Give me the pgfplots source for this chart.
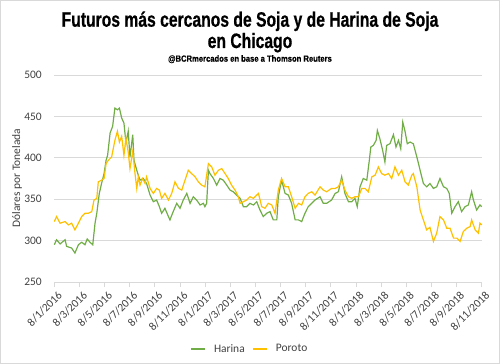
\documentclass[border=0pt]{standalone}
\usepackage{fontspec}
\setmainfont{Carlito}
\newfontfamily\titlefont[FakeStretch=0.75,FakeBold=0.6]{Liberation Sans}
\newfontfamily\subfont[FakeStretch=0.85,FakeBold=0.3]{Liberation Sans}
\usepackage{pgfplots}
\pgfplotsset{compat=1.18}
\definecolor{harina}{HTML}{70AD47}
\definecolor{poroto}{HTML}{FFC000}
\definecolor{gridc}{HTML}{D9D9D9}
\definecolor{txt}{HTML}{404040}
\begin{document}
\begin{tikzpicture}
\useasboundingbox (0,0) rectangle (500bp,364bp);
\draw[gridc, line width=0.8bp] (0.4bp,0.4bp) rectangle (499.6bp,363.6bp);
\node[anchor=base, inner sep=0pt, font=\titlefont\bfseries\fontsize{21}{25}\selectfont] at (250bp,337.3bp) {Futuros más cercanos de Soja y de Harina de Soja};
\node[anchor=base, inner sep=0pt, font=\titlefont\bfseries\fontsize{21}{25}\selectfont] at (250bp,316bp) {en Chicago};
\node[anchor=base, inner sep=0pt, font=\subfont\bfseries\fontsize{9}{11}\selectfont] at (250bp,302.3bp) {@BCRmercados en base a Thomson Reuters};
\node[rotate=90, inner sep=0pt, font=\fontsize{11.5}{13}\selectfont, text=txt] at (17bp,186bp) {Dólares por Tonelada};
\begin{axis}[
  at={(54.3bp,82bp)}, anchor=south west,
  width=427.4bp, height=207bp, scale only axis,
  xmin=0, xmax=17, ymin=250, ymax=500,
  ytick={250,300,...,500},
  xtick={0,...,17},
  xticklabels={8/1/2016,8/3/2016,8/5/2016,8/7/2016,8/9/2016,8/11/2016,8/1/2017,8/3/2017,8/5/2017,8/7/2017,8/9/2017,8/11/2017,8/1/2018,8/3/2018,8/5/2018,8/7/2018,8/9/2018,8/11/2018},
  axis line style={draw=none},
  ymajorgrids, grid style={gridc, line width=0.8bp},
  xtick pos=left, tick align=outside, major tick length=5bp,
  xtick style={gridc, line width=0.8bp},
  ytick style={draw=none},
  /pgf/number format/assume math mode=true,
  tick label style={font=\fontsize{11.5}{13}\selectfont, text=txt},
  yticklabel style={xshift=-4bp},
  xticklabel style={rotate=45, anchor=north east, xshift=3bp, yshift=-1bp},
  legend style={at={(0.458,-0.324)}, anchor=center, draw=none, fill=none, legend columns=2,
     font=\fontsize{11.5}{13}\selectfont, text=txt, column sep=6bp},
  legend image code/.code={\draw[#1] (0bp,0bp) -- (14bp,0bp);},
  clip=false,
]
\addplot[harina, line width=1.2bp] coordinates {
(0.00,295)(0.09,301)(0.23,296)(0.43,301)(0.49,293)(0.69,291)(0.82,285)(0.96,295)(1.09,298)(1.22,295)(1.31,302)(1.42,298)(1.53,295)(1.62,321)(1.69,333)(1.79,357)(1.88,369)(1.98,381)(2.06,397)(2.12,403)(2.22,430)(2.32,438)(2.41,460)(2.51,458)(2.59,460)(2.68,448)(2.77,442)(2.85,418)(2.94,432)(3.01,401)(3.12,428)(3.17,397)(3.28,385)(3.34,379)(3.41,373)(3.54,375)(3.67,369)(3.81,355)(3.94,347)(4.07,349)(4.18,341)(4.27,333)(4.40,339)(4.54,329)(4.60,325)(4.73,335)(4.87,345)(5.00,339)(5.13,349)(5.27,357)(5.40,345)(5.53,353)(5.66,349)(5.80,343)(5.93,345)(5.99,341)(6.06,345)(6.13,385)(6.19,381)(6.33,375)(6.46,367)(6.59,375)(6.72,373)(6.86,367)(6.99,361)(7.12,359)(7.25,355)(7.39,351)(7.52,341)(7.65,341)(7.78,345)(7.92,343)(8.05,347)(8.18,337)(8.31,329)(8.45,333)(8.58,335)(8.71,325)(8.85,325)(8.91,353)(9.04,373)(9.18,357)(9.31,355)(9.44,345)(9.58,325)(9.71,325)(9.84,323)(9.97,333)(10.10,341)(10.24,345)(10.37,349)(10.57,353)(10.70,345)(10.83,345)(11.03,349)(11.17,357)(11.30,359)(11.43,377)(11.56,357)(11.70,347)(11.83,347)(11.96,351)(12.05,341)(12.16,365)(12.29,375)(12.43,373)(12.53,397)(12.59,413)(12.69,415)(12.80,421)(12.85,433)(12.95,423)(13.06,409)(13.15,395)(13.22,415)(13.35,417)(13.49,428)(13.59,413)(13.69,421)(13.78,411)(13.86,443)(13.95,432)(14.04,417)(14.15,419)(14.28,417)(14.42,401)(14.55,385)(14.68,369)(14.81,365)(14.94,369)(15.08,363)(15.21,365)(15.34,375)(15.48,365)(15.61,363)(15.71,357)(15.81,333)(15.94,341)(16.07,347)(16.20,335)(16.34,341)(16.47,343)(16.60,359)(16.67,349)(16.80,337)(16.93,343)(17.00,341)
};
\addlegendentry{Harina}
\addplot[poroto, line width=1.2bp] coordinates {
(0.00,323)(0.09,329)(0.23,321)(0.43,323)(0.56,319)(0.69,321)(0.82,313)(0.96,321)(1.09,329)(1.22,333)(1.35,333)(1.49,335)(1.58,349)(1.69,351)(1.75,371)(1.88,373)(1.98,375)(2.06,393)(2.15,397)(2.28,401)(2.41,421)(2.51,432)(2.59,419)(2.68,426)(2.77,403)(2.85,424)(2.94,407)(3.01,387)(3.12,408)(3.21,381)(3.28,363)(3.34,377)(3.41,367)(3.51,375)(3.61,369)(3.67,377)(3.81,363)(3.94,357)(4.07,363)(4.18,361)(4.27,351)(4.40,357)(4.54,349)(4.67,357)(4.80,371)(4.94,363)(5.07,361)(5.20,373)(5.33,385)(5.46,381)(5.60,377)(5.73,371)(5.86,367)(5.99,365)(6.13,393)(6.26,389)(6.39,379)(6.53,385)(6.66,387)(6.79,381)(6.92,375)(7.05,367)(7.19,361)(7.32,353)(7.39,345)(7.52,347)(7.65,349)(7.78,353)(7.92,351)(8.12,357)(8.25,341)(8.38,339)(8.51,345)(8.65,343)(8.78,333)(8.91,361)(9.04,375)(9.18,365)(9.31,365)(9.44,353)(9.58,339)(9.71,345)(9.84,343)(9.97,353)(10.10,357)(10.24,359)(10.37,355)(10.57,365)(10.70,361)(10.83,359)(11.03,363)(11.17,363)(11.30,365)(11.43,373)(11.56,361)(11.70,353)(11.83,351)(11.96,353)(12.10,353)(12.23,363)(12.36,363)(12.49,359)(12.63,377)(12.76,379)(12.89,389)(13.02,381)(13.15,379)(13.29,381)(13.42,375)(13.55,389)(13.69,379)(13.82,385)(13.95,371)(14.08,367)(14.22,379)(14.28,381)(14.42,365)(14.55,337)(14.68,325)(14.81,313)(14.94,316)(15.08,299)(15.21,309)(15.34,329)(15.48,325)(15.61,315)(15.74,315)(15.88,303)(16.01,303)(16.14,299)(16.27,311)(16.41,315)(16.54,317)(16.60,325)(16.74,313)(16.87,309)(16.93,321)(17.00,319)
};
\addlegendentry{Poroto}
\end{axis}
\end{tikzpicture}
\end{document}
